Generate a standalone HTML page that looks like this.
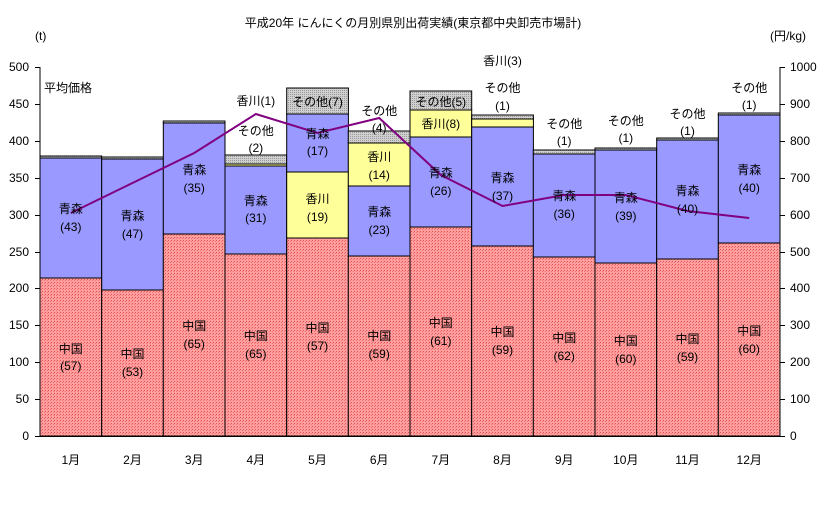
<!DOCTYPE html>
<html><head><meta charset="utf-8"><style>
html,body{margin:0;padding:0;background:#fff;}
svg text{font-family:"Liberation Sans","Noto Sans CJK JP",sans-serif;font-size:12px;fill:#000;}
</style></head><body>
<svg width="827" height="512" viewBox="0 0 827 512" xmlns="http://www.w3.org/2000/svg">
<defs>
<pattern id="pr" width="3" height="3" patternUnits="userSpaceOnUse"><rect width="3" height="3" fill="#ff9f9f"/><rect width="1" height="1" fill="#e05050"/><rect x="2" y="1" width="1" height="1" fill="#f07070"/></pattern>
<pattern id="pg" width="2" height="2" patternUnits="userSpaceOnUse"><rect width="2" height="2" fill="#d0d0d0"/><rect width="1" height="1" fill="#999"/></pattern>
</defs>
<text x="413" y="27" text-anchor="middle">平成20年 にんにくの月別県別出荷実績(東京都中央卸売市場計)</text>
<text x="35" y="40">(t)</text>
<text x="770" y="40">(円/kg)</text>
<g stroke="#000" stroke-width="1">
<!-- Jan -->
<rect x="40" y="278" width="61.7" height="158" fill="url(#pr)"/><rect x="40" y="158" width="61.7" height="120" fill="#9999ff"/><rect x="40" y="156" width="61.7" height="2" fill="url(#pg)"/>
<rect x="101.7" y="290" width="61.7" height="146" fill="url(#pr)"/><rect x="101.7" y="159" width="61.7" height="131" fill="#9999ff"/><rect x="101.7" y="157" width="61.7" height="2" fill="url(#pg)"/>
<rect x="163.3" y="234" width="61.7" height="202" fill="url(#pr)"/><rect x="163.3" y="123" width="61.7" height="111" fill="#9999ff"/><rect x="163.3" y="121" width="61.7" height="2" fill="url(#pg)"/>
<rect x="225" y="254" width="61.7" height="182" fill="url(#pr)"/><rect x="225" y="166" width="61.7" height="88" fill="#9999ff"/><rect x="225" y="164" width="61.7" height="2" fill="#ffff99"/><rect x="225" y="155" width="61.7" height="9" fill="url(#pg)"/>
<rect x="286.7" y="238" width="61.7" height="198" fill="url(#pr)"/><rect x="286.7" y="172" width="61.7" height="66" fill="#ffff99"/><rect x="286.7" y="114" width="61.7" height="58" fill="#9999ff"/><rect x="286.7" y="88" width="61.7" height="26" fill="url(#pg)"/>
<rect x="348.3" y="256" width="61.7" height="180" fill="url(#pr)"/><rect x="348.3" y="186" width="61.7" height="70" fill="#9999ff"/><rect x="348.3" y="143" width="61.7" height="43" fill="#ffff99"/><rect x="348.3" y="131" width="61.7" height="12" fill="url(#pg)"/>
<rect x="410" y="227" width="61.7" height="209" fill="url(#pr)"/><rect x="410" y="137" width="61.7" height="90" fill="#9999ff"/><rect x="410" y="110" width="61.7" height="27" fill="#ffff99"/><rect x="410" y="91" width="61.7" height="19" fill="url(#pg)"/>
<rect x="471.7" y="246" width="61.7" height="190" fill="url(#pr)"/><rect x="471.7" y="127" width="61.7" height="119" fill="#9999ff"/><rect x="471.7" y="119" width="61.7" height="8" fill="#ffff99"/><rect x="471.7" y="115" width="61.7" height="4" fill="url(#pg)"/>
<rect x="533.3" y="257" width="61.7" height="179" fill="url(#pr)"/><rect x="533.3" y="154" width="61.7" height="103" fill="#9999ff"/><rect x="533.3" y="150" width="61.7" height="4" fill="url(#pg)"/>
<rect x="595" y="263" width="61.7" height="173" fill="url(#pr)"/><rect x="595" y="150" width="61.7" height="113" fill="#9999ff"/><rect x="595" y="148" width="61.7" height="2" fill="url(#pg)"/>
<rect x="656.7" y="259" width="61.7" height="177" fill="url(#pr)"/><rect x="656.7" y="140" width="61.7" height="119" fill="#9999ff"/><rect x="656.7" y="138" width="61.7" height="2" fill="url(#pg)"/>
<rect x="718.3" y="243" width="61.7" height="193" fill="url(#pr)"/><rect x="718.3" y="115" width="61.7" height="128" fill="#9999ff"/><rect x="718.3" y="113" width="61.7" height="2" fill="url(#pg)"/>
<!-- axes -->
<line x1="40" y1="67" x2="40" y2="436"/><line x1="780" y1="67" x2="780" y2="436"/><line x1="40" y1="436.5" x2="780" y2="436.5"/>
<path d="M35 67.5h5M35 104.5h5M35 141.5h5M35 178.5h5M35 215.5h5M35 252.5h5M35 288.5h5M35 325.5h5M35 362.5h5M35 399.5h5M35 436.5h5"/>
<path d="M780 67.5h5M780 104.5h5M780 141.5h5M780 178.5h5M780 215.5h5M780 252.5h5M780 288.5h5M780 325.5h5M780 362.5h5M780 399.5h5M780 436.5h5"/>
</g>
<polyline fill="none" stroke="#800080" stroke-width="2" points="70.8,213 132.5,183 194.2,153 255.8,114 317.5,133 379.2,118 440.8,175 502.5,206 564.2,195 625.8,195 687.5,211 749.2,218"/>
<g text-anchor="end">
<text x="29" y="71">500</text><text x="29" y="108">450</text><text x="29" y="145">400</text><text x="29" y="182">350</text><text x="29" y="219">300</text><text x="29" y="256">250</text><text x="29" y="292">200</text><text x="29" y="329">150</text><text x="29" y="366">100</text><text x="29" y="403">50</text><text x="29" y="440">0</text>
</g>
<g>
<text x="790" y="71">1000</text><text x="790" y="108">900</text><text x="790" y="145">800</text><text x="790" y="182">700</text><text x="790" y="219">600</text><text x="790" y="256">500</text><text x="790" y="292">400</text><text x="790" y="329">300</text><text x="790" y="366">200</text><text x="790" y="403">100</text><text x="790" y="440">0</text>
</g>
<text x="44" y="92">平均価格</text>
<g text-anchor="middle">
<text x="70.8" y="464">1月</text><text x="132.5" y="464">2月</text><text x="194.2" y="464">3月</text><text x="255.8" y="464">4月</text><text x="317.5" y="464">5月</text><text x="379.2" y="464">6月</text><text x="440.8" y="464">7月</text><text x="502.5" y="464">8月</text><text x="564.2" y="464">9月</text><text x="625.8" y="464">10月</text><text x="687.5" y="464">11月</text><text x="749.2" y="464">12月</text>
<!-- 中国 -->
<text x="70.8" y="353">中国</text><text x="70.8" y="370">(57)</text>
<text x="132.5" y="358">中国</text><text x="132.5" y="376">(53)</text>
<text x="194.2" y="330">中国</text><text x="194.2" y="348">(65)</text>
<text x="255.8" y="340">中国</text><text x="255.8" y="358">(65)</text>
<text x="317.5" y="332">中国</text><text x="317.5" y="350">(57)</text>
<text x="379.2" y="340">中国</text><text x="379.2" y="358">(59)</text>
<text x="440.8" y="327">中国</text><text x="440.8" y="345">(61)</text>
<text x="502.5" y="336">中国</text><text x="502.5" y="354">(59)</text>
<text x="564.2" y="342">中国</text><text x="564.2" y="360">(62)</text>
<text x="625.8" y="345">中国</text><text x="625.8" y="363">(60)</text>
<text x="687.5" y="343">中国</text><text x="687.5" y="361">(59)</text>
<text x="749.2" y="335">中国</text><text x="749.2" y="353">(60)</text>
<!-- 青森 -->
<text x="70.8" y="213">青森</text><text x="70.8" y="231">(43)</text>
<text x="132.5" y="220">青森</text><text x="132.5" y="238">(47)</text>
<text x="194.2" y="174">青森</text><text x="194.2" y="192">(35)</text>
<text x="255.8" y="205">青森</text><text x="255.8" y="222">(31)</text>
<text x="317.5" y="138">青森</text><text x="317.5" y="155">(17)</text>
<text x="379.2" y="216">青森</text><text x="379.2" y="234">(23)</text>
<text x="440.8" y="177">青森</text><text x="440.8" y="195">(26)</text>
<text x="502.5" y="182">青森</text><text x="502.5" y="200">(37)</text>
<text x="564.2" y="200">青森</text><text x="564.2" y="218">(36)</text>
<text x="625.8" y="202">青森</text><text x="625.8" y="220">(39)</text>
<text x="687.5" y="195">青森</text><text x="687.5" y="213">(40)</text>
<text x="749.2" y="174">青森</text><text x="749.2" y="192">(40)</text>
<!-- 香川 -->
<text x="317.5" y="203">香川</text><text x="317.5" y="221">(19)</text>
<text x="379.2" y="161">香川</text><text x="379.2" y="179">(14)</text>
<text x="440.8" y="128">香川(8)</text>
<text x="255.8" y="105">香川(1)</text>
<text x="502.5" y="65">香川(3)</text>
<!-- その他 -->
<text x="317.5" y="106">その他(7)</text>
<text x="440.8" y="106">その他(5)</text>
<text x="255.8" y="135">その他</text><text x="255.8" y="152">(2)</text>
<text x="379.2" y="115">その他</text><text x="379.2" y="132">(4)</text>
<text x="502.5" y="92">その他</text><text x="502.5" y="110">(1)</text>
<text x="564.2" y="128">その他</text><text x="564.2" y="145">(1)</text>
<text x="625.8" y="125">その他</text><text x="625.8" y="142">(1)</text>
<text x="687.5" y="118">その他</text><text x="687.5" y="135">(1)</text>
<text x="749.2" y="92">その他</text><text x="749.2" y="109">(1)</text>
</g>
</svg>
</body></html>
